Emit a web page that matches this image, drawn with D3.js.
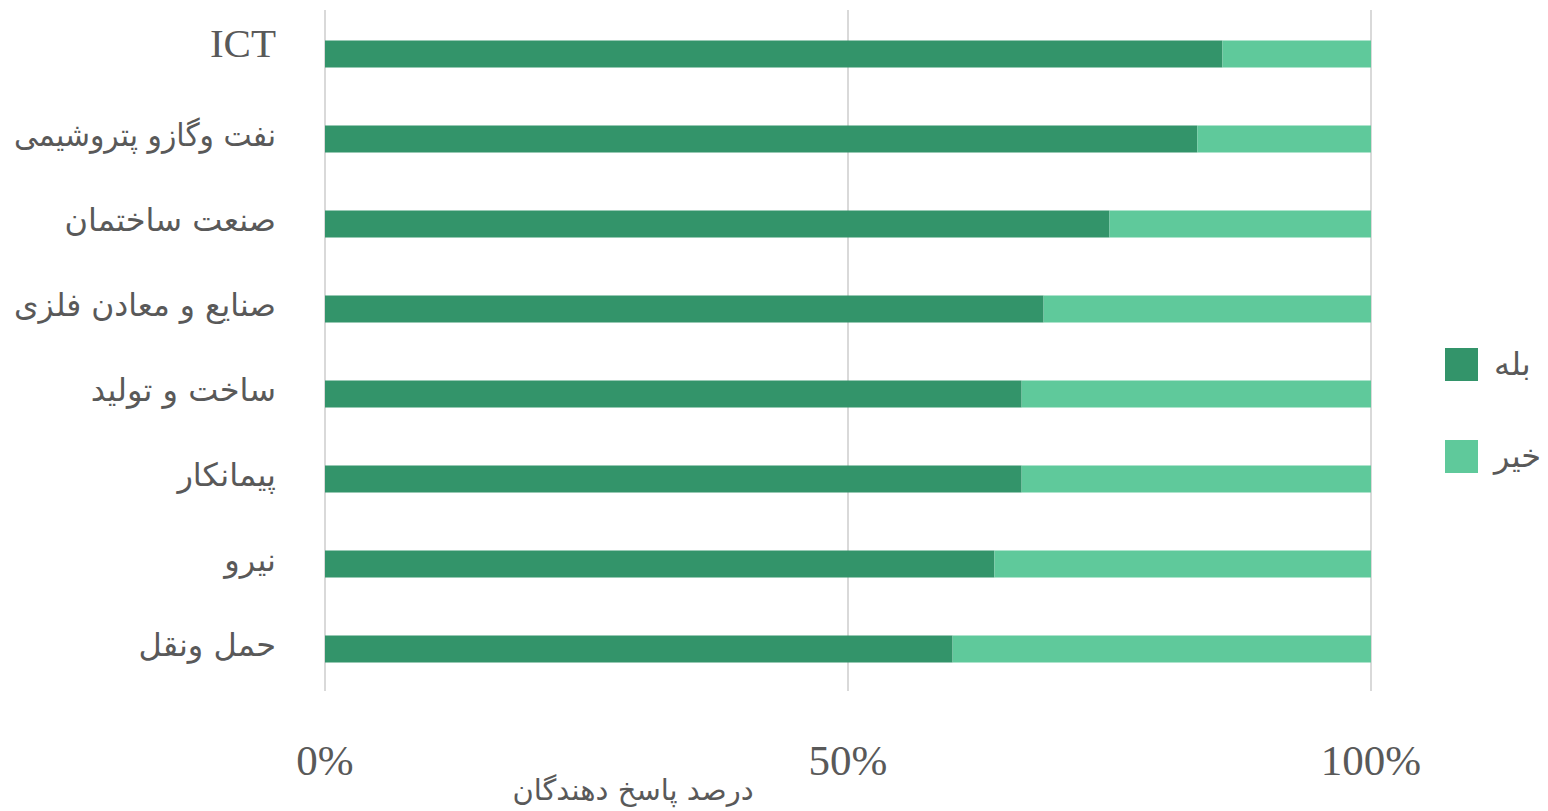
<!DOCTYPE html>
<html>
<head>
<meta charset="utf-8">
<script src="https://cdn.jsdelivr.net/npm/d3@7"></script>
<style>
body { margin: 0; background: #fff; }
text { fill: #595959; }
</style>
</head>
<body>
<script>
var w = 1548;
var h = 811;

var categories = ["ICT", "نفت وگازو پتروشیمی", "صنعت ساختمان", "صنایع و معادن فلزی",
                  "ساخت و تولید", "پیمانکار", "نیرو", "حمل ونقل"];
var yes = [85.8, 83.4, 75.0, 68.7, 66.6, 66.6, 64.0, 60.0];
var no = [14.2, 16.6, 25.0, 31.3, 33.4, 33.4, 36.0, 40.0];
var seriesNames = ["بله", "خیر"];
var colors = ["#33946a", "#5fc99b"];
var xTicks = [0, 50, 100];
var xTitle = "درصد پاسخ دهندگان";

var svg = d3.select("body").append("svg")
    .attr("width", w)
    .attr("height", h);

var xScale = d3.scaleLinear()
    .domain([0, 100])
    .range([325, 1371]);
var yScale = d3.scalePoint()
    .domain(categories)
    .range([11.5, 691.5])
    .padding(0.5);
var barH = 27;
var labelRight = 276;
var labelMaxW = 262;

// gridlines
svg.selectAll("line.grid")
    .data(xTicks)
    .enter()
    .append("line")
    .attr("class", "grid")
    .attr("x1", function(d) { return xScale(d); })
    .attr("x2", function(d) { return xScale(d); })
    .attr("y1", 10)
    .attr("y2", 691)
    .attr("stroke", "#d9d9d9")
    .attr("stroke-width", 2);

var rows = categories.map(function(c, i) {
    return { cat: c, yes: yes[i], no: no[i] };
});

svg.selectAll("rect.yes")
    .data(rows)
    .enter()
    .append("rect")
    .attr("class", "yes")
    .attr("x", xScale(0))
    .attr("y", function(d) { return yScale(d.cat) - barH / 2; })
    .attr("width", function(d) { return xScale(d.yes) - xScale(0); })
    .attr("height", barH)
    .attr("fill", colors[0]);

svg.selectAll("rect.no")
    .data(rows)
    .enter()
    .append("rect")
    .attr("class", "no")
    .attr("x", function(d) { return xScale(d.yes); })
    .attr("y", function(d) { return yScale(d.cat) - barH / 2; })
    .attr("width", function(d) { return xScale(d.yes + d.no) - xScale(d.yes); })
    .attr("height", barH)
    .attr("fill", colors[1]);

// category labels (latin in serif, persian falls back to DejaVu Sans)
function isLatin(s) { return /^[A-Za-z ]+$/.test(s); }

svg.selectAll("text.cat")
    .data(categories)
    .enter()
    .append("text")
    .attr("class", "cat")
    .text(function(d) { return d; })
    .attr("x", labelRight)
    .attr("y", function(d) { return yScale(d) - (isLatin(d) ? 6 : 2); })
    .attr("text-anchor", "end")
    .attr("dominant-baseline", "middle")
    .attr("font-family", function(d) {
        return isLatin(d) ? "'Liberation Serif', serif" : "'DejaVu Sans', sans-serif";
    })
    .attr("font-size", function(d) { return isLatin(d) ? "41px" : "32px"; })
    .each(function() {
        // squeeze labels that would run past the left edge
        if (this.getComputedTextLength() > labelMaxW) {
            d3.select(this)
                .attr("textLength", labelMaxW)
                .attr("lengthAdjust", "spacingAndGlyphs");
        }
    });

// x tick labels
svg.selectAll("text.tick")
    .data(xTicks)
    .enter()
    .append("text")
    .attr("class", "tick")
    .text(function(d) { return d + "%"; })
    .attr("x", function(d) { return xScale(d); })
    .attr("y", 775)
    .attr("text-anchor", "middle")
    .attr("font-family", "'Liberation Serif', serif")
    .attr("font-size", "43px");

svg.append("text")
    .text(xTitle)
    .attr("x", 633)
    .attr("y", 800)
    .attr("text-anchor", "middle")
    .attr("font-family", "'DejaVu Sans', sans-serif")
    .attr("font-size", "29px");

// legend
var legend = svg.selectAll("g.legend")
    .data(seriesNames)
    .enter()
    .append("g")
    .attr("class", "legend")
    .attr("transform", function(d, i) {
        return "translate(1445," + (348 + i * 92) + ")";
    });

legend.append("rect")
    .attr("width", 33)
    .attr("height", 33)
    .attr("fill", function(d, i) { return colors[i]; });

legend.append("text")
    .text(function(d) { return d; })
    .attr("x", 49)
    .attr("y", 18)
    .attr("text-anchor", "start")
    .attr("dominant-baseline", "middle")
    .attr("font-family", "'DejaVu Sans', sans-serif")
    .attr("font-size", "32px");
</script>
</body>
</html>
